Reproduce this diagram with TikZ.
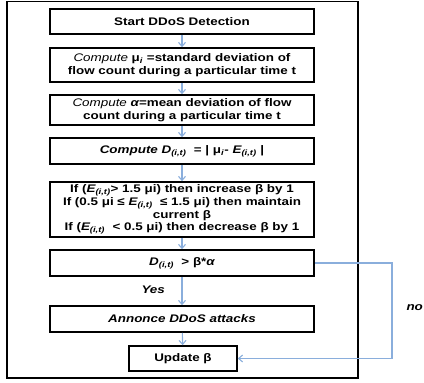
\documentclass[tikz,border=0pt]{standalone}
\usepackage{fontspec}
\setmainfont{Liberation Sans}[FakeStretch=1.22]
\usetikzlibrary{arrows.meta}
\definecolor{flowblue}{HTML}{8AAEDC}
\newcommand\sbs[1]{\textsubscript{\textit{#1}}}
\begin{document}
\begin{tikzpicture}[x=1pt,y=-1pt,
  stepbox/.style={draw=black,line width=1.6pt,minimum width=264pt,inner sep=1pt,
    align=center,font=\fontsize{11}{12.8}\selectfont\bfseries},
  flow/.style={draw=flowblue,line width=1.1pt,-{Straight Barb[length=4pt,width=7pt]}},
  lbl/.style={font=\fontsize{11}{13}\selectfont\bfseries\itshape}]
\useasboundingbox (0,0) rectangle (424,383);
\draw[line width=1.5pt] (7,1.5) rectangle (358,378);

\node[stepbox,minimum height=25pt] (start) at (182,21.5) {Start DDoS Detection};
\node[stepbox,minimum height=34pt] (mu) at (182,65)
  {{\mdseries\itshape Compute} μ\sbs{i} =standard deviation of\\flow count during a particular time t};
\node[stepbox,minimum height=30pt] (alpha) at (182,110)
  {{\mdseries\itshape Compute} {\itshape α}=mean deviation of flow\\count during a particular time t};
\node[stepbox,minimum height=26pt] (dev) at (182,151)
  {{\itshape Compute D\sbs{(i,t)}} \ = | μ\sbs{i}- {\itshape E\sbs{(i,t)}} |};
\node[stepbox,minimum height=55pt] (rule) at (182,209.5)
  {If ({\itshape E\sbs{(i,t)}}> 1.5 μi) then increase β by 1\\
   If (0.5 μi ≤ {\itshape E\sbs{(i,t)}} \ ≤ 1.5 μi) then maintain\\
   current β\\
   If ({\itshape E\sbs{(i,t)}} \ < 0.5 μi) then decrease β by 1};
\node[stepbox,minimum height=26pt] (test) at (182,263)
  {{\itshape D\sbs{(i,t)}} \ > β*{\itshape α}};
\node[stepbox,minimum height=26pt] (alarm) at (182,319)
  {\itshape Annonce DDoS attacks};
\node[stepbox,minimum width=108pt,minimum height=25pt] (update) at (183,358.5)
  {Update β};

\draw[flow] (start) -- (mu);
\draw[flow] (mu) -- (alpha);
\draw[flow] (alpha) -- (dev);
\draw[flow] (dev) -- (rule);
\draw[flow] (rule) -- (test);
\draw[flow] (test) -- (alarm);
\draw[flow] (alarm) -- (update);

\coordinate (turn) at (392,263);
\draw[flow] (test.east) -- (turn) |- (update.east);

\node[lbl,anchor=west] (yes) at (138,290) {Yes};
\node[lbl,anchor=west] (no) at (403,308) {no};
\end{tikzpicture}
\end{document}
